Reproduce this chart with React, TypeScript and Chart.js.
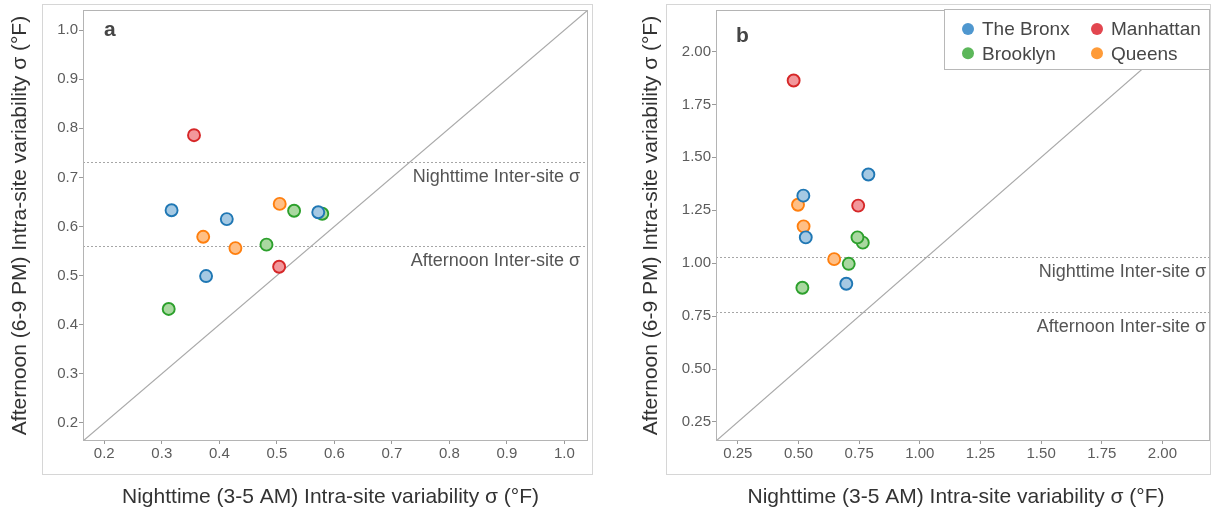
import React, { useEffect, useRef } from "react";
import { Chart, registerables } from "chart.js";

Chart.register(...registerables);

// Series metadata, in dataset order
const boroughs = ["The Bronx", "Brooklyn", "Manhattan", "Queens"];
const edgeColors = ["#1f77b4", "#2ca02c", "#d62728", "#ff7f0e"];
const fillColors = ["#a5c9e3", "#a9d8a0", "#f2979b", "#ffbf85"];
const legendColors = ["#4f97cf", "#5cb75a", "#e2464f", "#ff9b38"];

// Panel a: nighttime (x) vs afternoon (y) intra-site sigma
const aBronxX = [0.317, 0.413, 0.572, 0.377];
const aBronxY = [0.633, 0.615, 0.629, 0.499];
const aBrooklynX = [0.579, 0.53, 0.482, 0.312];
const aBrooklynY = [0.626, 0.632, 0.563, 0.432];
const aManhattanX = [0.356, 0.504];
const aManhattanY = [0.786, 0.518];
const aQueensX = [0.372, 0.428, 0.505];
const aQueensY = [0.579, 0.556, 0.646];

// Panel b
const bBronxX = [0.788, 0.52, 0.53, 0.697];
const bBronxY = [1.419, 1.319, 1.122, 0.903];
const bBrooklynX = [0.765, 0.743, 0.707, 0.516];
const bBrooklynY = [1.097, 1.122, 0.997, 0.884];
const bManhattanX = [0.48, 0.746];
const bManhattanY = [1.863, 1.272];
const bQueensX = [0.498, 0.521, 0.647];
const bQueensY = [1.276, 1.174, 1.019];

// Axis ticks and ranges (same range on both axes so 1:1 line runs corner to corner)
const aTicks = [0.2, 0.3, 0.4, 0.5, 0.6, 0.7, 0.8, 0.9, 1.0];
const bTicks = [0.25, 0.5, 0.75, 1.0, 1.25, 1.5, 1.75, 2.0];
const aRange = [0.163, 1.041];
const bRange = [0.16, 2.196];

// Inter-site sigma reference levels: [nighttime, afternoon]
const aInterSite = [0.731, 0.561];
const bInterSite = [1.028, 0.769];
const interSiteLabels = ["Nighttime Inter-site σ", "Afternoon Inter-site σ"];

const xTitle = "Nighttime (3-5 AM) Intra-site variability σ (°F)";
const yTitle = "Afternoon (6-9 PM) Intra-site variability σ (°F)";

const FONT = "'Liberation Sans', Arial, Helvetica, sans-serif";

const zip = (xs: number[], ys: number[]) => xs.map((x, i) => ({ x, y: ys[i] }));

type PanelSpec = {
  letter: string;
  letterDx: number;
  letterDy: number;
  series: { x: number; y: number }[][];
  ticks: number[];
  range: number[];
  decimals: number;
  levels: number[];
  levelRightGap: number;
  titleDx: number;
  padLeft: number;
  padRight: number;
  yWidth: number;
  legend: boolean;
};

const panelDecor = {
  id: "panelDecor",
  beforeDatasetsDraw(chart: any, _args: any, opts: any) {
    const { ctx, chartArea: ca, scales } = chart;
    ctx.save();
    // dotted inter-site reference lines with labels
    opts.levels.forEach((v: number, i: number) => {
      const y = Math.round(scales.y.getPixelForValue(v)) + 0.5;
      ctx.strokeStyle = "#a6a6a6";
      ctx.lineWidth = 1;
      ctx.setLineDash([2, 2]);
      ctx.beginPath();
      ctx.moveTo(ca.left, y);
      ctx.lineTo(ca.right, y);
      ctx.stroke();
      ctx.setLineDash([]);
      ctx.fillStyle = "#555";
      ctx.font = `18px ${FONT}`;
      ctx.textAlign = "right";
      ctx.textBaseline = "alphabetic";
      ctx.fillText(interSiteLabels[i], ca.right - opts.levelRightGap, y + 19);
    });
    ctx.restore();
  },
  afterDraw(chart: any, _args: any, opts: any) {
    const { ctx, chartArea: ca } = chart;
    ctx.save();
    // plot frame
    ctx.strokeStyle = "#b4b4b4";
    ctx.lineWidth = 1;
    ctx.strokeRect(ca.left + 0.5, ca.top + 0.5, ca.right - ca.left - 1, ca.bottom - ca.top - 1);
    // x-axis title
    ctx.fillStyle = "#333";
    ctx.font = `21px ${FONT}`;
    ctx.textAlign = "center";
    ctx.textBaseline = "middle";
    ctx.fillText(xTitle, (ca.left + ca.right) / 2 + opts.titleDx, 497);
    // panel letter
    ctx.fillStyle = "#454545";
    ctx.font = `bold 21px ${FONT}`;
    ctx.textAlign = "left";
    ctx.textBaseline = "alphabetic";
    ctx.fillText(opts.letter, ca.left + opts.letterDx, ca.top + opts.letterDy);
    // legend
    if (opts.legend) {
      const bx = ca.right - 265.5;
      const by = ca.top - 0.5;
      const bw = 265;
      const bh = 60;
      ctx.fillStyle = "#fff";
      ctx.fillRect(bx, by, bw, bh);
      ctx.strokeStyle = "#b8b8b8";
      ctx.strokeRect(bx, by, bw, bh);
      ctx.font = `19px ${FONT}`;
      ctx.textBaseline = "middle";
      boroughs.forEach((name, i) => {
        const col = Math.floor(i / 2);
        const row = i % 2;
        const cx = bx + 23.5 + col * 129;
        const cy = by + 19.5 + row * 24.3;
        ctx.fillStyle = legendColors[i];
        ctx.beginPath();
        ctx.arc(cx, cy, 6, 0, Math.PI * 2);
        ctx.fill();
        ctx.fillStyle = "#474747";
        ctx.fillText(name, cx + 14, cy + 1);
      });
    }
    ctx.restore();
  },
};

function buildConfig(p: PanelSpec): any {
  const [lo, hi] = p.range;
  const datasets: any[] = p.series.map((pts, i) => ({
    type: "scatter",
    label: boroughs[i],
    data: pts,
    backgroundColor: fillColors[i],
    borderColor: edgeColors[i],
    borderWidth: 1.9,
    pointRadius: 6,
    order: 0,
  }));
  // 1:1 line
  datasets.push({
    type: "line",
    label: "1:1",
    data: [
      { x: lo, y: lo },
      { x: hi, y: hi },
    ],
    borderColor: "#a9a9a9",
    borderWidth: 1.2,
    pointRadius: 0,
    fill: false,
    order: 10,
  });
  const tickFont = { family: FONT, size: 15 };
  const fmt = (v: any) => Number(v).toFixed(p.decimals);
  return {
    type: "scatter",
    data: { datasets },
    plugins: [panelDecor],
    options: {
      animation: false,
      responsive: false,
      devicePixelRatio: 1,
      events: [],
      layout: {
        autoPadding: false,
        padding: { left: p.padLeft, right: p.padRight, top: 9, bottom: 0 },
      },
      plugins: {
        legend: { display: false },
        tooltip: { enabled: false },
        panelDecor: {
          letter: p.letter,
          letterDx: p.letterDx,
          letterDy: p.letterDy,
          levels: p.levels,
          levelRightGap: p.levelRightGap,
          titleDx: p.titleDx,
          legend: p.legend,
        },
      },
      scales: {
        x: {
          type: "linear",
          min: lo,
          max: hi,
          afterBuildTicks: (s: any) => {
            s.ticks = p.ticks.map((v) => ({ value: v }));
          },
          afterFit: (s: any) => {
            s.height = 72;
            s.paddingLeft = 0;
            s.paddingRight = 0;
          },
          grid: { drawOnChartArea: false, drawTicks: true, tickLength: 3, color: "#9a9a9a" },
          border: { display: false },
          ticks: { color: "#5c5c5c", font: tickFont, padding: 1, maxRotation: 0, callback: fmt },
          title: { display: false, text: xTitle },
        },
        y: {
          type: "linear",
          min: lo,
          max: hi,
          afterBuildTicks: (s: any) => {
            s.ticks = p.ticks.map((v) => ({ value: v }));
          },
          afterFit: (s: any) => {
            s.width = p.yWidth;
          },
          grid: { drawOnChartArea: false, drawTicks: true, tickLength: 4, color: "#9a9a9a" },
          border: { display: false },
          ticks: { color: "#5c5c5c", font: tickFont, padding: 1, callback: fmt },
          title: {
            display: true,
            text: yTitle,
            color: "#333",
            font: { family: FONT, size: 21 },
            padding: { top: 4, bottom: 0 },
          },
        },
      },
    },
  };
}

const panelA: PanelSpec = {
  letter: "a",
  letterDx: 21,
  letterDy: 26,
  series: [
    zip(aBronxX, aBronxY),
    zip(aBrooklynX, aBrooklynY),
    zip(aManhattanX, aManhattanY),
    zip(aQueensX, aQueensY),
  ],
  ticks: aTicks,
  range: aRange,
  decimals: 1,
  levels: aInterSite,
  levelRightGap: 8,
  titleDx: -5,
  padLeft: 4,
  padRight: 12,
  yWidth: 79,
  legend: false,
};

const panelB: PanelSpec = {
  letter: "b",
  letterDx: 20,
  letterDy: 32,
  series: [
    zip(bBronxX, bBronxY),
    zip(bBrooklynX, bBrooklynY),
    zip(bManhattanX, bManhattanY),
    zip(bQueensX, bQueensY),
  ],
  ticks: bTicks,
  range: bRange,
  decimals: 2,
  levels: bInterSite,
  levelRightGap: 4,
  titleDx: -7,
  padLeft: 35,
  padRight: 2,
  yWidth: 81,
  legend: true,
};

function Panel({ spec, left, width }: { spec: PanelSpec; left: number; width: number }) {
  const ref = useRef<HTMLCanvasElement>(null);
  useEffect(() => {
    if (!ref.current) return;
    const chart = new Chart(ref.current, buildConfig(spec));
    return () => chart.destroy();
  }, [spec]);
  return (
    <canvas
      ref={ref}
      width={width}
      height={513}
      style={{ position: "absolute", left, top: 0, width, height: 513 }}
    />
  );
}

const frameStyle = (left: number, width: number): React.CSSProperties => ({
  position: "absolute",
  left,
  top: 4,
  width,
  height: 471,
  border: "1px solid #d6d6d6",
  boxSizing: "border-box",
});

export default function App() {
  return (
    <div
      style={{
        position: "fixed",
        left: 0,
        top: 0,
        width: 1212,
        height: 513,
        background: "#fff",
        overflow: "hidden",
      }}
    >
      <div style={frameStyle(42, 551)} />
      <div style={frameStyle(666, 545)} />
      <Panel spec={panelA} left={0} width={600} />
      <Panel spec={panelB} left={600} width={612} />
    </div>
  );
}
